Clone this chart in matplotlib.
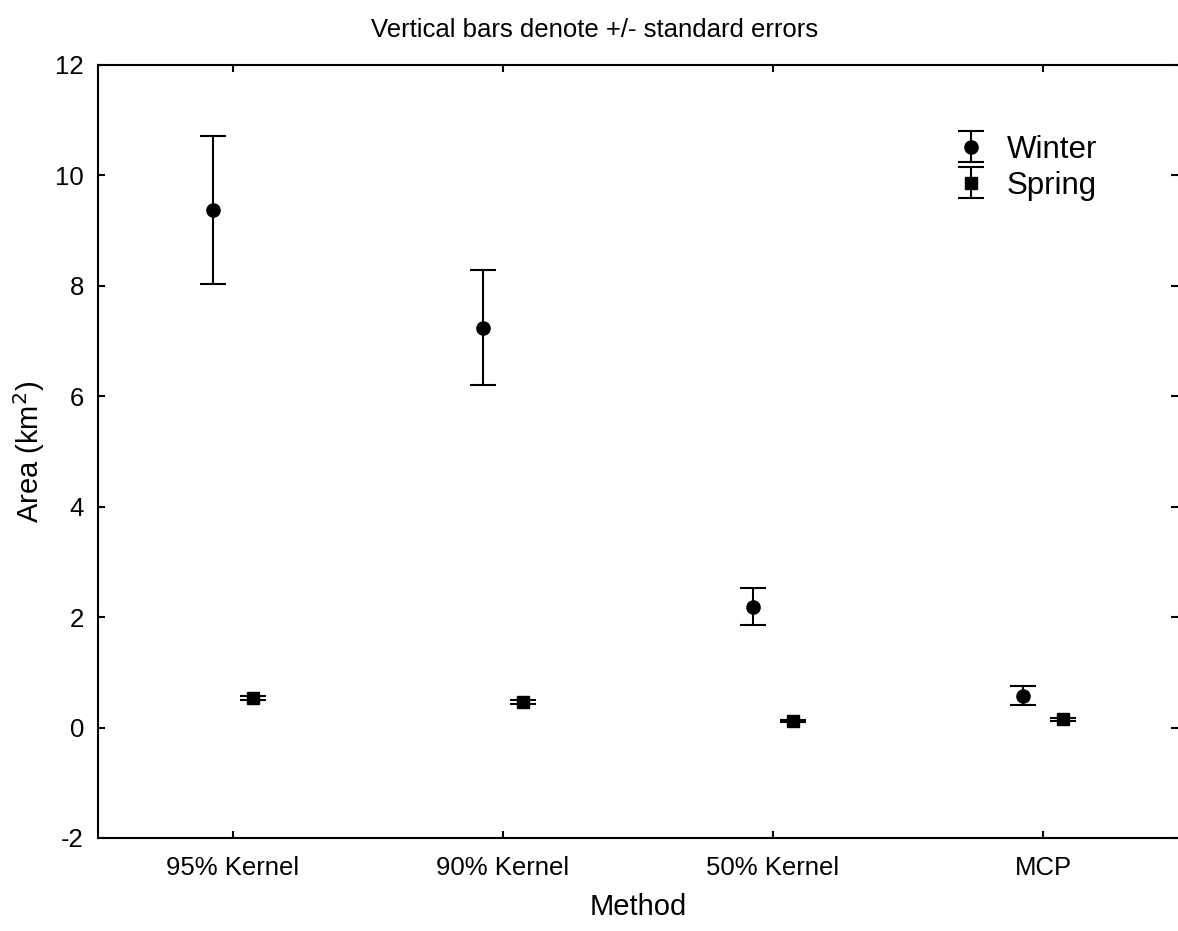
import matplotlib
matplotlib.use("Agg")
import matplotlib.pyplot as plt
import numpy as np

plt.rcParams['font.family'] = ['Liberation Sans', 'DejaVu Sans']

methods = ["95% Kernel", "90% Kernel", "50% Kernel", "MCP"]
winter_mean = [9.38, 7.24, 2.19, 0.58]
winter_se = [1.34, 1.04, 0.34, 0.17]
spring_mean = [0.54, 0.46, 0.12, 0.15]
spring_se = [0.04, 0.04, 0.02, 0.03]
y_ticks = [-2, 0, 2, 4, 6, 8, 10, 12]

fig = plt.figure(figsize=(11.78, 9.31), dpi=100)
ax = fig.add_axes([0.0832, 0.0999, 0.9168, 0.8303])

x = np.arange(len(methods))
offset = 0.075
style = dict(color='black', ecolor='black', elinewidth=1.5, capthick=1.5,
             capsize=9.5, linestyle='none')
ax.errorbar(x - offset, winter_mean, yerr=winter_se, marker='o', markersize=9.5,
            label='Winter', **style)
ax.errorbar(x + offset, spring_mean, yerr=spring_se, marker='s', markersize=8.5,
            label='Spring', **style)

ax.set_xlim(-0.5, 3.5)
ax.set_ylim(-2, 12)
ax.set_xticks(x)
ax.set_xticklabels(methods)
ax.set_yticks(y_ticks)
ax.set_yticklabels([str(t) for t in y_ticks])
ax.tick_params(axis='both', direction='in', length=5, width=1.5, labelsize=18.5,
               top=True, right=True, pad=10)
ax.tick_params(axis='x', pad=13)
for side in ['left', 'top', 'bottom']:
    ax.spines[side].set_linewidth(1.5)
ax.spines['right'].set_visible(False)

ax.set_xlabel("Method", fontsize=21, labelpad=9)
ax.set_ylabel("Area (km$^2$)", fontsize=21, labelpad=6)
fig.text(0.505, 0.968, "Vertical bars denote +/- standard errors", fontsize=18.5,
         ha='center', va='center')

ax.legend(loc='upper left', bbox_to_anchor=(0.785, 0.91), frameon=False,
          fontsize=22.5, handlelength=1.6, handletextpad=0.35, labelspacing=0.2,
          borderaxespad=0.0, borderpad=0.0)

fig.savefig("out.png", dpi=100)
